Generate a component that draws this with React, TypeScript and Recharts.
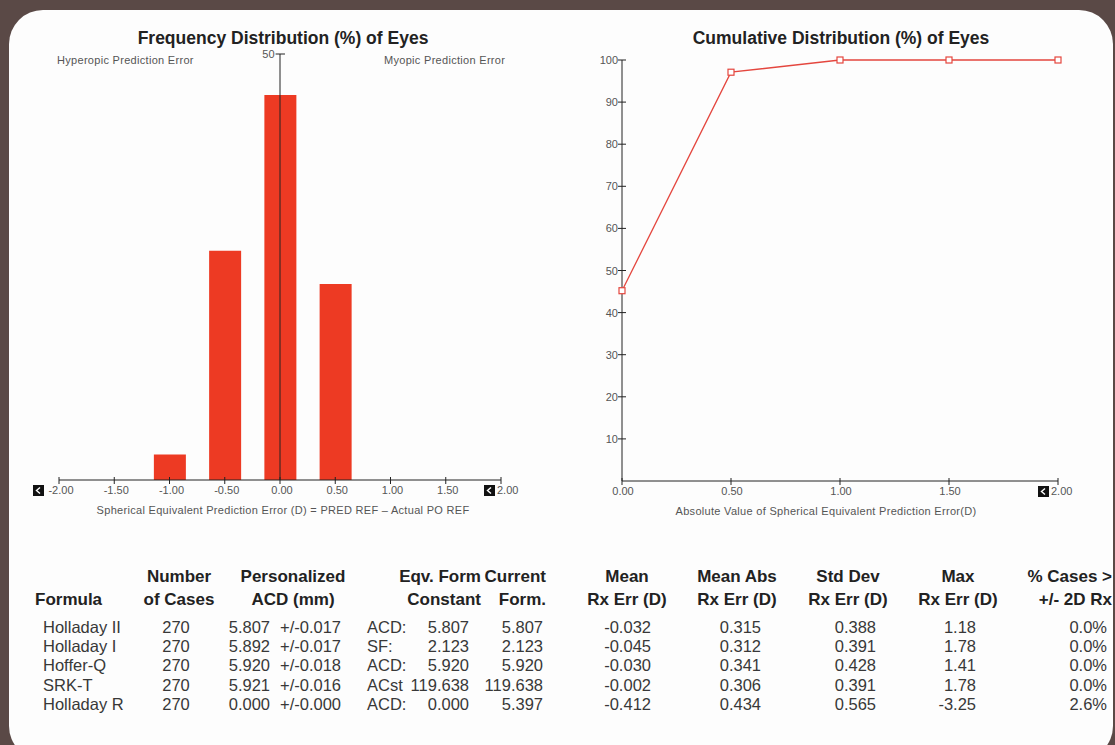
import React from 'react';
import { BarChart, Bar, XAxis, YAxis, ReferenceLine, LineChart, Line } from 'recharts';

// % of eyes per 0.50 D bin of spherical equivalent prediction error
const errorBins = [-1.0, -0.5, 0.0, 0.5];
const eyesPercent = [3.0, 26.9, 45.2, 23.0];
const errorTicks = [-2, -1.5, -1, -0.5, 0, 0.5, 1, 1.5, 2];

// cumulative % of eyes within a given absolute error
const absErrorSteps = [0, 0.5, 1.0, 1.5, 2.0];
const cumulativePercent = [45.2, 97.1, 100, 100, 100];
const absErrorTicks = [0, 0.5, 1, 1.5, 2];
const cumulativeTicks = [10, 20, 30, 40, 50, 60, 70, 80, 90, 100];

// summary table
const formulas = ['Holladay II', 'Holladay I', 'Hoffer-Q', 'SRK-T', 'Holladay R'];
const caseCounts = ['270', '270', '270', '270', '270'];
const personalizedAcd = ['5.807', '5.892', '5.920', '5.921', '0.000'];
const acdSpread = ['+/-0.017', '+/-0.017', '+/-0.018', '+/-0.016', '+/-0.000'];
const constantNames = ['ACD:', 'SF:', 'ACD:', 'ACst', 'ACD:'];
const constantValues = ['5.807', '2.123', '5.920', '119.638', '0.000'];
const currentForm = ['5.807', '2.123', '5.920', '119.638', '5.397'];
const meanErr = ['-0.032', '-0.045', '-0.030', '-0.002', '-0.412'];
const meanAbsErr = ['0.315', '0.312', '0.341', '0.306', '0.434'];
const stdDevErr = ['0.388', '0.391', '0.428', '0.391', '0.565'];
const maxErr = ['1.18', '1.78', '1.41', '1.78', '-3.25'];
const pctOver2D = ['0.0%', '0.0%', '0.0%', '0.0%', '2.6%'];

const freqData = errorBins.map((bin, i) => ({ bin, pct: eyesPercent[i] }));
const cumData = absErrorSteps.map((abs, i) => ({ abs, pct: cumulativePercent[i] }));

const FONT = 'Arial, "Liberation Sans", sans-serif';
const AXIS = '#222';
const BAR = '#ed3a23';
const LINE = '#e4463e';
const TICK_TEXT = '#555';

const NavBox = ({ x, y }: { x: number; y: number }) => (
  <g>
    <rect x={x} y={y} width={11} height={11} fill="#111" />
    <path
      d={`M${x + 7} ${y + 2.5} L${x + 3.5} ${y + 5.5} L${x + 7} ${y + 8.5}`}
      stroke="#fff"
      strokeWidth={1.4}
      fill="none"
    />
  </g>
);

const FreqTick = (props: any) => {
  const { x, y, payload } = props;
  const v = payload.value as number;
  const first = v === errorTicks[0];
  const last = v === errorTicks[errorTicks.length - 1];
  return (
    <g>
      <line x1={x} y1={y - 3} x2={x} y2={y + 4} stroke={AXIS} />
      {first && <NavBox x={x - 26} y={y + 5} />}
      {last && <NavBox x={x - 17} y={y + 5} />}
      <text
        x={last ? x - 4 : x + 2}
        y={y + 14}
        textAnchor={last ? 'start' : 'middle'}
        fontSize={11}
        fontFamily={FONT}
        fill={TICK_TEXT}
      >
        {v.toFixed(2)}
      </text>
    </g>
  );
};

const CumXTick = (props: any) => {
  const { x, y, payload } = props;
  const v = payload.value as number;
  const last = v === absErrorTicks[absErrorTicks.length - 1];
  return (
    <g>
      <line x1={x} y1={y - 3} x2={x} y2={y + 4} stroke={AXIS} />
      {last && <NavBox x={x - 20} y={y + 5} />}
      <text
        x={last ? x - 7 : x + 1}
        y={y + 14}
        textAnchor={last ? 'start' : 'middle'}
        fontSize={11}
        fontFamily={FONT}
        fill={TICK_TEXT}
      >
        {v.toFixed(2)}
      </text>
    </g>
  );
};

const CumYTick = (props: any) => {
  const { x, y, payload } = props;
  return (
    <g>
      <line x1={x - 4} y1={y} x2={x + 4} y2={y} stroke={AXIS} />
      <text x={x - 4} y={y + 4} textAnchor="end" fontSize={11} fontFamily={FONT} fill={TICK_TEXT}>
        {payload.value}
      </text>
    </g>
  );
};

const squareDot = (p: any) => (
  <rect
    key={`dot-${p.index}`}
    x={p.cx - 3}
    y={p.cy - 3}
    width={6}
    height={6}
    fill="#fff"
    stroke={LINE}
    strokeWidth={1.2}
  />
);

const abs = (left: number, top: number): React.CSSProperties => ({ position: 'absolute', left, top });

const Title = ({ cx, cy, text }: { cx: number; cy: number; text: string }) => (
  <div
    style={{
      ...abs(cx, cy),
      transform: 'translate(-50%, -50%)',
      fontFamily: FONT,
      fontWeight: 'bold',
      fontSize: 17.5,
      color: '#222',
      whiteSpace: 'nowrap',
    }}
  >
    {text}
  </div>
);

const SmallText = ({ x, cy, text, anchor = 'left' }: { x: number; cy: number; text: string; anchor?: string }) => (
  <div
    style={{
      ...abs(x, cy),
      transform: `translate(${anchor === 'center' ? '-50%' : '0'}, -50%)`,
      fontFamily: FONT,
      fontSize: 11,
      letterSpacing: 0.3,
      color: '#555',
      whiteSpace: 'nowrap',
    }}
  >
    {text}
  </div>
);

// table layout: x is the anchor point of each column
type Align = 'left' | 'center' | 'right';
const tableCols: { x: number; align: Align; head?: [string, string]; headAlign?: Align; headX?: number; values: string[] }[] = [
  { x: 43, align: 'left', head: ['', 'Formula'], headX: 35, headAlign: 'left', values: formulas },
  { x: 176, align: 'center', head: ['Number', 'of Cases'], headX: 179, headAlign: 'center', values: caseCounts },
  { x: 270, align: 'right', head: ['Personalized', 'ACD (mm)'], headX: 293, headAlign: 'center', values: personalizedAcd },
  { x: 280, align: 'left', values: acdSpread },
  { x: 367, align: 'left', values: constantNames },
  { x: 469, align: 'right', head: ['Eqv. Form', 'Constant'], headX: 481, headAlign: 'right', values: constantValues },
  { x: 543, align: 'right', head: ['Current', 'Form.'], headX: 546, headAlign: 'right', values: currentForm },
  { x: 651, align: 'right', head: ['Mean', 'Rx Err (D)'], headX: 627, headAlign: 'center', values: meanErr },
  { x: 761, align: 'right', head: ['Mean Abs', 'Rx Err (D)'], headX: 737, headAlign: 'center', values: meanAbsErr },
  { x: 876, align: 'right', head: ['Std Dev', 'Rx Err (D)'], headX: 848, headAlign: 'center', values: stdDevErr },
  { x: 976, align: 'right', head: ['Max', 'Rx Err (D)'], headX: 958, headAlign: 'center', values: maxErr },
  { x: 1107, align: 'right', head: ['% Cases >', '+/- 2D Rx'], headX: 1112, headAlign: 'right', values: pctOver2D },
];
const headRows = [577, 600];
const dataRows = [627, 646, 665, 685, 704];

const shift = (a: Align) => (a === 'left' ? '0' : a === 'center' ? '-50%' : '-100%');

const TableCell = ({ x, cy, text, align, bold }: { x: number; cy: number; text: string; align: Align; bold?: boolean }) => (
  <div
    style={{
      ...abs(x, cy),
      transform: `translate(${shift(align)}, -50%)`,
      fontFamily: FONT,
      fontSize: bold ? 17 : 16.5,
      fontWeight: bold ? 'bold' : 'normal',
      color: bold ? '#222' : '#383838',
      whiteSpace: 'nowrap',
      lineHeight: '18px',
    }}
  >
    {text}
  </div>
);

export default function App() {
  return (
    <div style={{ position: 'fixed', left: 0, top: 0, width: 1115, height: 745, background: '#5a4946', overflow: 'hidden' }}>
      <div
        style={{
          position: 'absolute',
          left: 9,
          top: 10,
          width: 1104,
          height: 750,
          background: '#fdfdfd',
          borderRadius: 34,
        }}
      />

      <Title cx={283} cy={38} text="Frequency Distribution (%) of Eyes" />
      <Title cx={841} cy={38} text="Cumulative Distribution (%) of Eyes" />
      <SmallText x={57} cy={60} text="Hyperopic Prediction Error" />
      <SmallText x={384} cy={60} text="Myopic Prediction Error" />
      <SmallText x={283} cy={510} anchor="center" text="Spherical Equivalent Prediction Error (D) = PRED REF – Actual PO REF" />
      <SmallText x={826} cy={511} anchor="center" text="Absolute Value of Spherical Equivalent Prediction Error(D)" />

      <div style={abs(20, 20)}>
        <BarChart width={520} height={500} data={freqData} margin={{ top: 34, right: 39, bottom: 0, left: 39 }}>
          <XAxis
            type="number"
            dataKey="bin"
            domain={[-2, 2]}
            ticks={errorTicks}
            interval={0}
            height={40}
            tickSize={0}
            tickMargin={0}
            tickLine={false}
            axisLine={{ stroke: AXIS }}
            tick={<FreqTick />}
          />
          <YAxis hide type="number" domain={[0, 50]} />
          <Bar dataKey="pct" fill={BAR} barSize={32} isAnimationActive={false} />
          <ReferenceLine segment={[{ x: 0, y: 0 }, { x: 0, y: 50 }]} stroke={AXIS} />
          <ReferenceLine
            segment={[{ x: -0.04, y: 50 }, { x: 0.045, y: 50 }]}
            stroke={AXIS}
            label={{ value: '50', position: 'left', offset: 1, fontSize: 11, fill: TICK_TEXT, fontFamily: FONT }}
          />
        </BarChart>
      </div>

      <div style={abs(580, 20)}>
        <LineChart width={520} height={500} data={cumData} margin={{ top: 40, right: 42, bottom: 0, left: 0 }}>
          <XAxis
            type="number"
            dataKey="abs"
            domain={[0, 2]}
            ticks={absErrorTicks}
            interval={0}
            height={39}
            tickSize={0}
            tickMargin={0}
            tickLine={false}
            axisLine={{ stroke: AXIS }}
            tick={<CumXTick />}
          />
          <YAxis
            type="number"
            domain={[0, 100]}
            ticks={cumulativeTicks}
            interval={0}
            width={42}
            tickSize={0}
            tickMargin={0}
            tickLine={false}
            axisLine={{ stroke: AXIS }}
            tick={<CumYTick />}
          />
          <Line dataKey="pct" stroke={LINE} strokeWidth={1.3} dot={squareDot} activeDot={false} isAnimationActive={false} />
        </LineChart>
      </div>

      {tableCols.map((col, ci) => (
        <React.Fragment key={ci}>
          {col.head &&
            col.head.map((h, hi) =>
              h ? (
                <TableCell key={`h${hi}`} x={col.headX ?? col.x} cy={headRows[hi]} text={h} align={col.headAlign ?? col.align} bold />
              ) : null
            )}
          {col.values.map((v, ri) => (
            <TableCell key={`v${ri}`} x={col.x} cy={dataRows[ri]} text={v} align={col.align} />
          ))}
        </React.Fragment>
      ))}
    </div>
  );
}
